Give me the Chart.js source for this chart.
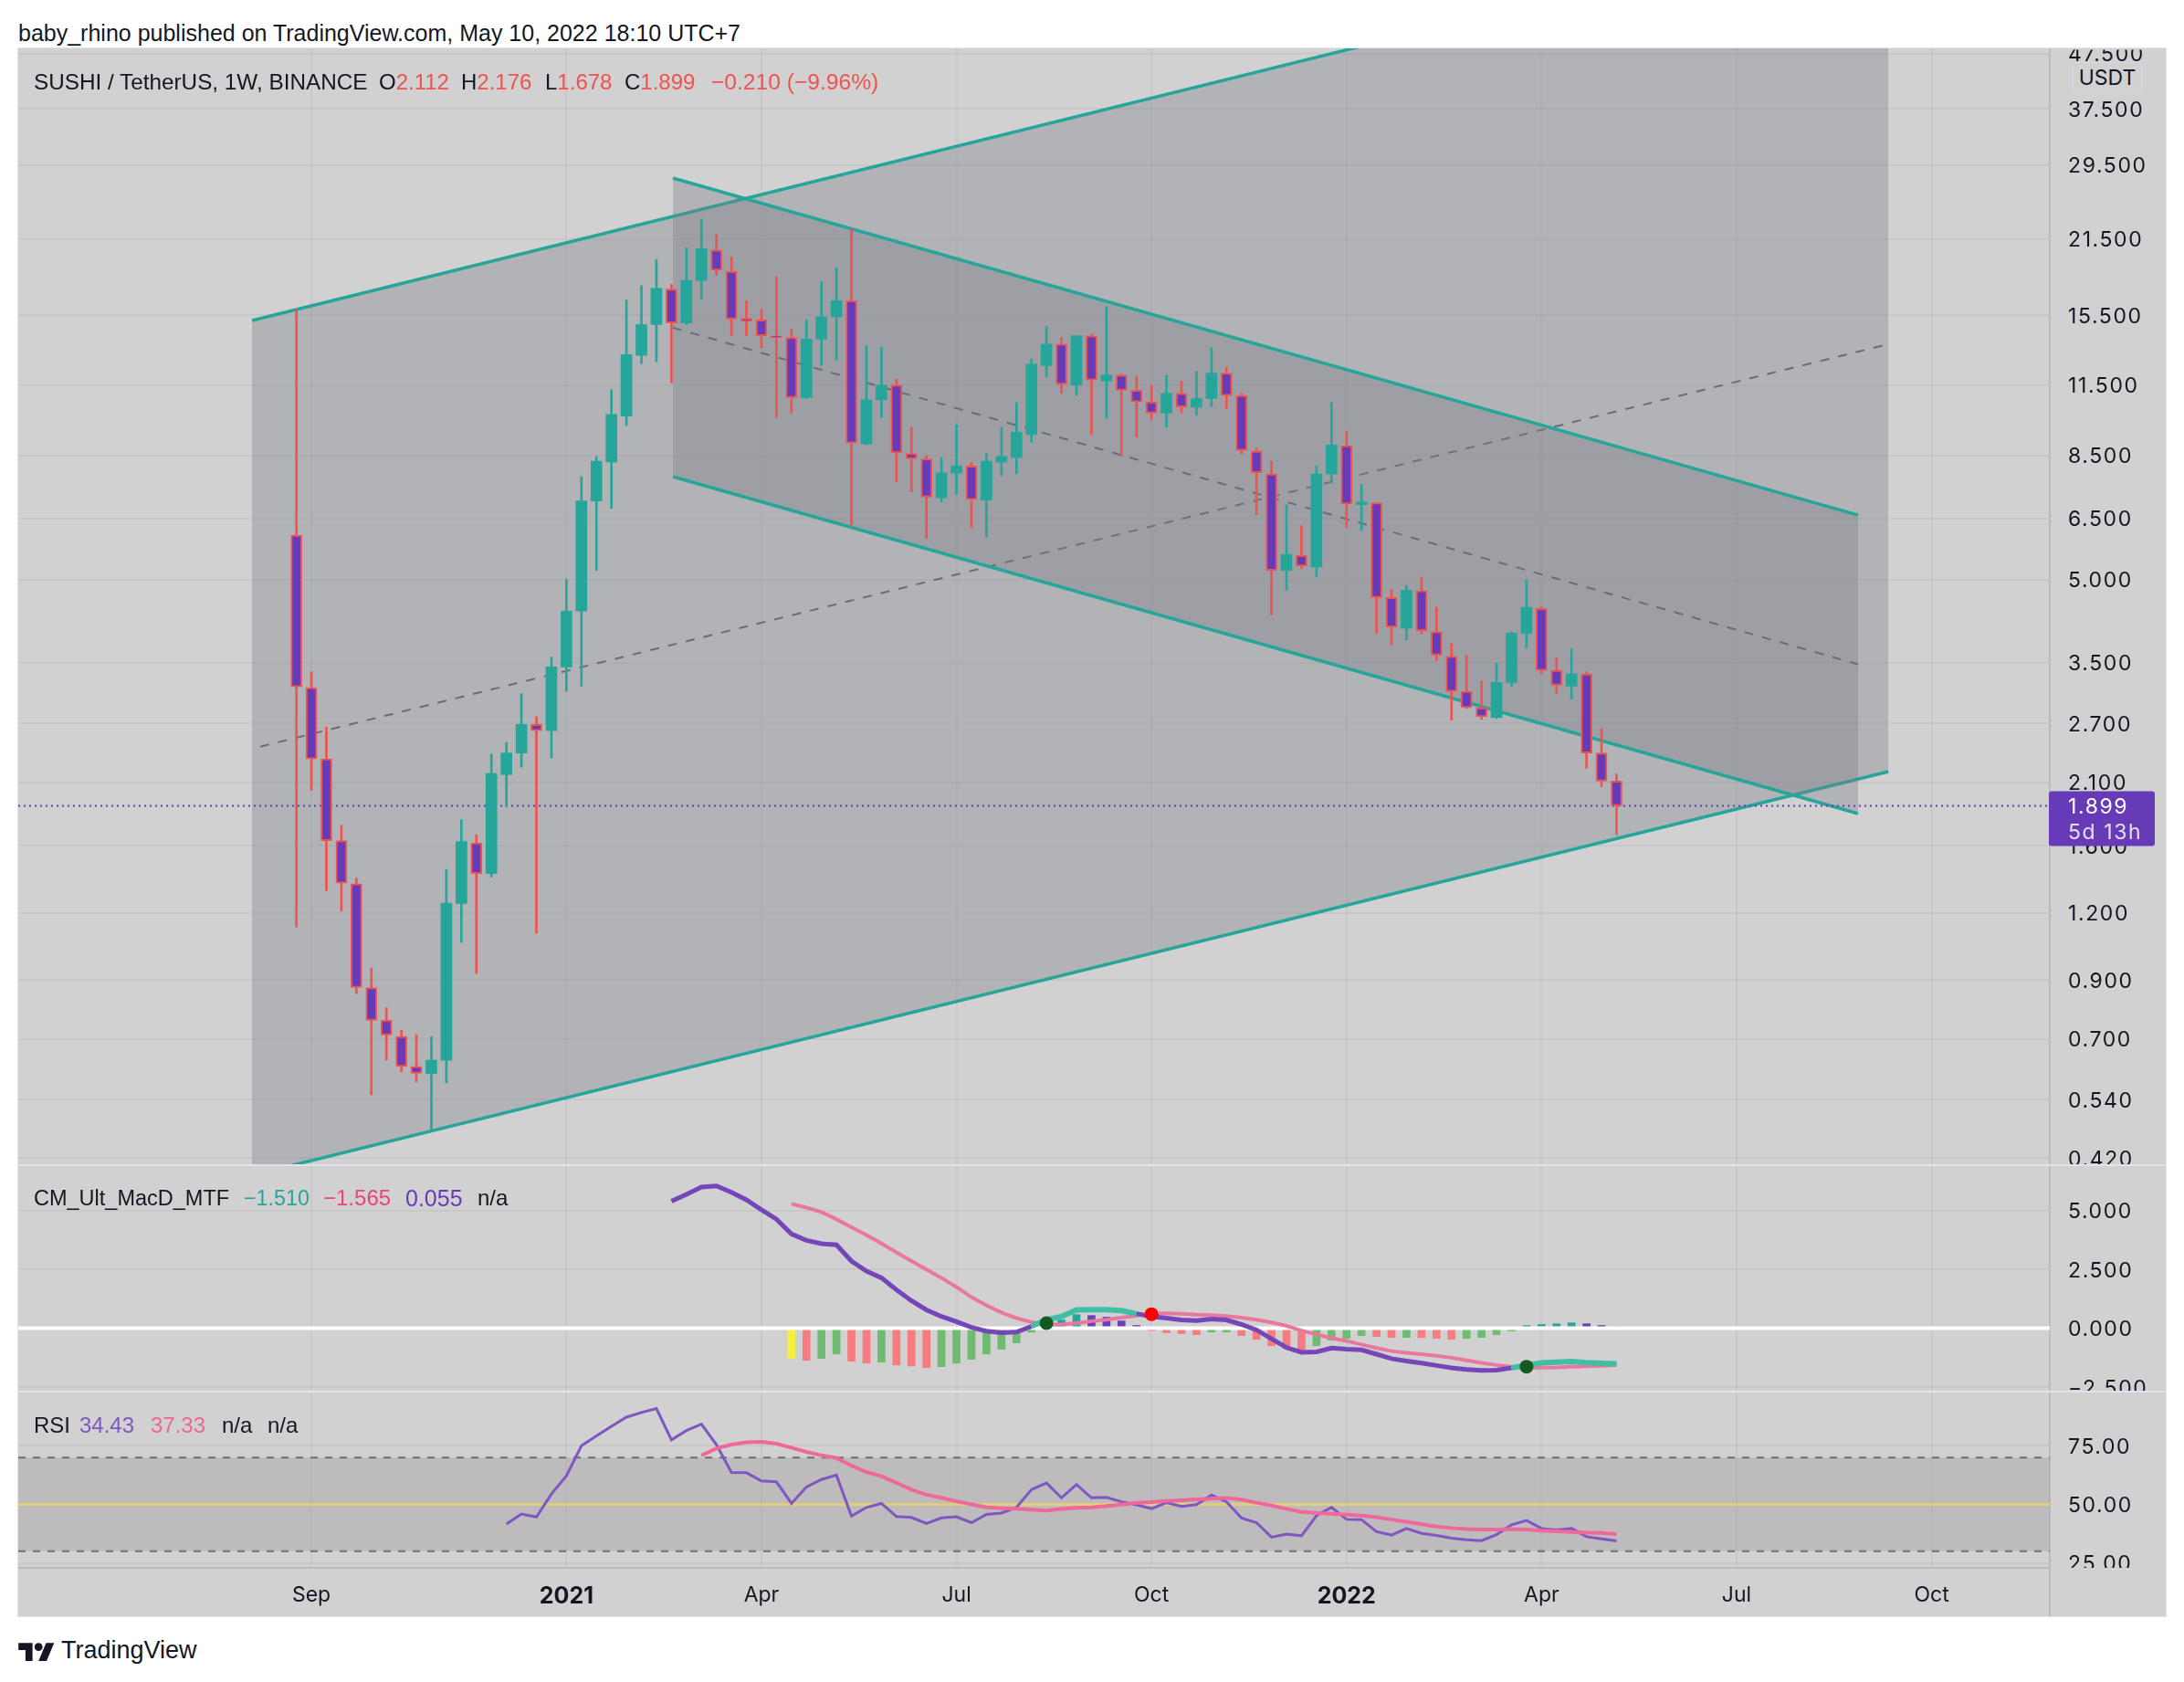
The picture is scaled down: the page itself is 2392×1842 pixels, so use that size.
<!DOCTYPE html>
<html>
<head>
<meta charset="utf-8">
<title>SUSHI / TetherUS</title>
<script src="https://cdn.jsdelivr.net/npm/chart.js@4"></script>
<style>
    html, body { margin: 0; background: #fff; }
    body { position: relative; width: 2392px; height: 1842px; overflow: hidden; font-family: "Liberation Sans", sans-serif; color: #131722; }
    #grafico { position: absolute; left: 20px; top: 53px; background: #d1d1d1; box-shadow: 0 0 0 1px #e0e3eb; }
    .txt { position: absolute; font-size: 24px; line-height: 30px; white-space: pre; }
    .rojo { color: #ef5350; }
    #usdt { position: absolute; left: 2270px; top: 68px; width: 74px; height: 32px; text-align: center; font: 23px/32px Inter, sans-serif; background: #d1d1d1; border: 1px solid #d6d8e0; border-radius: 6px; }
    #logo { position: absolute; left: 20px; top: 1797px; }
</style>
</head>
<body>
<div class="txt" style="left:20px;top:21px;font-size:25px">baby_rhino published on TradingView.com, May 10, 2022 18:10 UTC+7</div>
<canvas id="grafico" width="2352" height="1717"></canvas>
<div class="txt" style="left:37px;top:75px;font-size:24.3px">SUSHI / TetherUS, 1W, BINANCE</div>
<div class="txt" style="left:415px;top:75px">O<span class="rojo">2.112</span></div>
<div class="txt" style="left:505px;top:75px">H<span class="rojo">2.176</span></div>
<div class="txt" style="left:597px;top:75px">L<span class="rojo">1.678</span></div>
<div class="txt rojo" style="left:684px;top:75px"><span style="color:#131722">C</span>1.899</div>
<div class="txt rojo" style="left:779px;top:75px;font-size:24.6px">−0.210 (−9.96%)</div>
<div id="usdt">USDT</div>
<div class="txt" style="left:37px;top:1297px;font-size:23.5px">CM_Ult_MacD_MTF</div>
<div class="txt" style="left:267px;top:1297px;font-size:23.3px;color:#26a69a">−1.510</div>
<div class="txt" style="left:354px;top:1297px;color:#e8447c">−1.565</div>
<div class="txt" style="left:444px;top:1297px;font-size:25px;color:#673ab7">0.055</div>
<div class="txt" style="left:523px;top:1297px">n/a</div>
<div class="txt" style="left:37px;top:1546px">RSI</div>
<div class="txt" style="left:87px;top:1546px;color:#7e57c2">34.43</div>
<div class="txt" style="left:165px;top:1546px;color:#ec6794">37.33</div>
<div class="txt" style="left:243px;top:1546px">n/a</div>
<div class="txt" style="left:293px;top:1546px">n/a</div>
<svg id="logo" width="40" height="22" viewBox="0 0 36 20"><path d="M14 20H7V9H0V2h14v18zM28 20h-8l7.5-18h8L28 20z" fill="#131722"/><circle cx="20" cy="6" r="4" fill="#131722"/></svg>
<div class="txt" style="left:67px;top:1792px;font-size:27px">TradingView</div>

<script>
// velas semanales, desde la semana del 31 ago 2020
const aperturas = [6.05,3.15,2.32,1.636,1.36,.872,.758,.707,.622,.603,.639,1.25,1.62,1.42,2.17,2.38,2.69,2.62,3.44,4.37,7.0,8.27,10.07,13.06,14.9,17.35,15.0,18.0,20.5,18.7,15.3,15.2,14.2,14.1,10.9,14.0,15.4,16.5,8.94,10.8,11.5,8.58,8.38,7.1,7.89,8.13,7.03,8.27,8.43,9.3,12.5,13.7,11.5,14.2,11.7,12.0,11.25,10.7,10.2,11.1,10.46,10.85,12.1,11.0,8.67,7.86,5.2,5.55,5.28,7.86,8.87,6.89,6.95,4.63,4.06,4.77,4.0,3.6,3.1,2.89,2.77,3.22,3.97,4.42,3.39,3.17,3.34,2.38,2.112];
const maximos = [15.9,3.37,2.66,1.748,1.392,.948,.80,.727,.713,.707,1.446,1.79,1.678,2.37,2.49,3.07,2.78,3.59,5.01,7.77,8.47,11.27,16.55,17.6,19.7,17.7,20.7,23.4,21.9,19.9,16.5,15.9,18.3,14.6,15.2,17.9,19.0,22.5,13.6,13.5,11.8,9.6,8.5,8.43,9.7,8.27,8.6,9.6,10.67,12.87,14.8,14.1,14.2,14.3,16.1,12.06,11.95,11.5,12.0,11.7,12.2,13.5,12.4,11.1,8.77,8.3,6.89,6.3,8.14,10.67,9.45,7.52,6.95,4.8,4.88,5.06,4.44,3.8,3.62,3.24,3.5,4.0,5.0,4.45,3.58,3.72,3.37,2.64,2.176];
const minimos = [1.13,2.03,1.32,1.21,.85,.551,.639,.608,.582,.473,.58,1.058,.926,1.40,1.89,2.24,1.10,2.33,3.10,3.17,5.2,6.78,9.67,12.6,12.7,11.6,14.9,16.6,18.4,14.2,14.2,13.5,9.99,10.2,10.85,12.5,12.8,6.28,8.9,10.0,7.6,7.28,5.96,6.97,7.2,6.24,6.0,7.8,7.87,9.0,11.9,11.1,11.0,9.3,9.98,8.48,9.2,9.9,9.6,10.2,10.1,10.5,10.4,8.57,6.6,4.3,4.78,5.24,5.07,7.56,6.25,6.18,3.97,3.78,3.86,3.96,3.54,2.74,2.88,2.75,2.76,3.16,3.73,3.34,3.07,3.0,2.23,2.06,1.678];
const cierres = [3.16,2.32,1.636,1.363,.872,.758,.712,.622,.604,.639,1.252,1.63,1.42,2.18,2.38,2.69,2.62,3.44,4.37,7.0,8.3,10.14,13.1,14.9,17.4,15.0,18.0,20.6,18.8,15.25,15.1,14.2,14.1,10.9,14.0,15.4,16.5,8.97,10.8,11.5,8.6,8.39,7.12,7.9,8.14,7.04,8.3,8.47,9.4,12.57,13.7,11.55,14.2,11.75,12.0,11.25,10.7,10.2,11.1,10.47,10.85,12.1,11.0,8.7,7.9,5.2,5.57,5.3,7.86,8.9,6.91,6.97,4.63,4.08,4.78,4.02,3.62,3.1,2.89,2.78,3.22,3.98,4.44,3.39,3.18,3.34,2.38,2.11,1.899];

// canal ascendente y canal descendente: [semana, precio]
const canalSubeArriba = [[-2.96,15.16],[106.12,85.7]];
const canalSubeAbajo = [[-2.96,.3905],[106.12,2.198]];
const canalSubeMedio = [[-2.41,2.446],[106.12,13.7]];
const bordeRelleno = [[-2.96,.4093],[0,.4093],[106.12,2.198]];
const canalBajaArriba = [[25.1,27.9],[104.1,6.59]];
const canalBajaAbajo = [[25.1,7.77],[104.1,1.836]];
const canalBajaMedio = [[25.1,14.7],[104.1,3.48]];

const macdInicio = 25;
const macdLinea = [5.39,5.68,5.99,6.04,5.77,5.45,5.03,4.63,4.0,3.73,3.59,3.54,2.85,2.42,2.14,1.63,1.17,.78,.5,.28,.04,-.12,-.19,-.16,.08,.36,.5,.78,.79,.79,.75,.62,.5,.43,.35,.32,.39,.35,.16,-.07,-.45,-.82,-1.02,-1.0,-.84,-.89,-.92,-1.1,-1.29,-1.39,-1.48,-1.58,-1.68,-1.75,-1.79,-1.78,-1.68,-1.57,-1.47,-1.44,-1.41,-1.46,-1.49,-1.51];
const senalInicio = 33;
const macdSenal = [5.28,5.12,4.93,4.63,4.29,3.96,3.6,3.22,2.85,2.49,2.14,1.75,1.32,.97,.67,.43,.26,.16,.16,.22,.3,.36,.45,.54,.61,.63,.61,.58,.56,.52,.45,.36,.25,.1,-.1,-.26,-.42,-.54,-.69,-.84,-.97,-1.04,-1.1,-1.17,-1.25,-1.36,-1.47,-1.56,-1.63,-1.67,-1.67,-1.66,-1.63,-1.61,-1.59,-1.565];
const histograma = [-1.27,-1.36,-1.28,-1.09,-1.40,-1.48,-1.44,-1.56,-1.6,-1.67,-1.63,-1.48,-1.32,-1.09,-.89,-.62,-.17,.2,.35,.58,.54,.47,.31,.12,-.1,-.19,-.23,-.27,-.16,-.16,-.31,-.47,-.74,-.86,-.93,-.74,-.51,-.43,-.31,-.35,-.39,-.39,-.40,-.43,-.47,-.43,-.39,-.27,-.12,.12,.16,.19,.23,.19,.12,.055];
const crucesAlza = [[50,.22],[82,-1.63]];
const crucesBaja = [[57,.6]];

const rsiInicio = 14;
const rsiLinea = [41.6,45.9,44.6,54.4,62.2,75.0,79.2,83.3,87.2,89.2,90.9,77.5,81.5,84.2,75.5,63.6,63.5,60.0,59.6,50.4,57.4,60.6,62.5,45.0,48.7,50.4,44.8,44.4,41.8,44.2,44.7,42.2,45.7,46.3,48.7,56.3,59.1,52.8,58.5,52.8,53.0,51.1,49.8,48.2,50.7,49.1,49.9,54.0,51.1,44.2,42.2,36.0,37.3,36.6,45.2,48.7,43.6,43.5,38.3,36.9,39.7,37.6,36.7,35.6,34.9,34.5,37.1,41.3,43.1,39.7,39.1,39.7,36.2,35.3,34.43];
const mediaInicio = 27;
const rsiMedia = [70.9,73.9,75.5,76.5,76.7,75.9,74.2,72.4,70.9,69.8,66.5,63.8,62.0,59.2,56.3,54.1,52.8,51.3,50.0,48.7,48.3,48.1,47.7,47.4,48.0,48.5,48.7,49.3,49.9,50.7,51.0,51.4,51.7,52.1,52.4,52.7,52.0,50.7,49.5,48.1,46.8,46.3,46.0,45.6,45.2,44.5,43.5,42.6,41.5,40.5,39.9,39.5,39.3,39.3,39.5,39.3,38.8,38.5,38.2,37.9,37.8,37.33];

const ticksPrecio = [47.5,37.5,29.5,21.5,15.5,11.5,8.5,6.5,5,3.5,2.7,2.1,1.6,1.2,.9,.7,.54,.42];
const ticksMacd = [5,2.5,0,-2.5];
const ticksRsi = [75,50,25];
const ticksSemana = [1,18,31,44,57,70,83,96,109];
const etiquetasSemana = ['Sep','2021','Apr','Jul','Oct','2022','Apr','Jul','Oct'];

const VERDE = '#26a69a', ROJO = '#ef5350', MORADO = '#673ab7';
const XMIN = -18.54, XMAX = 116.88;
const SOMBRA = 'rgba(120,123,134,0.35)';

const puntos = pares => pares.map(([x, y]) => ({ x, y }));
const serie = (inicio, vals) => vals.map((y, k) => ({ x: inicio + k, y }));
const semanas = cierres.map((_, i) => i);
const horizontal = v => [{ x: XMIN, y: v }, { x: XMAX, y: v }];

const linea = (data, yAxisID, extra) => ({ type: 'line', data, yAxisID, pointRadius: 0, tension: 0, ...extra });
const tendencia = pares => linea(puntos(pares), 'y', { borderColor: VERDE, borderWidth: 3.5 });
const discontinua = pares => linea(puntos(pares), 'y', { borderColor: '#6b6c75', borderWidth: 2, borderDash: [10, 10] });

// color del histograma segun suba o baje respecto a la barra anterior
const colorHist = (v, k) => {
    if (k === 0) return '#f5f03c';
    const prev = histograma[k - 1];
    if (v >= 0) return v >= prev ? VERDE : '#6b3fb5';
    return v < prev ? '#f77c80' : '#6fbb6f';
};

// macd por encima de la senal en el punto final del tramo
const macdArriba = ctx => {
    const k = ctx.p1.parsed.x - senalInicio;
    return k >= 0 && macdLinea[ctx.p1.parsed.x - macdInicio] >= macdSenal[k];
};

// de atras hacia adelante
const capas = [
    linea(puntos(canalSubeArriba), 'y', { borderWidth: 0, fill: '+1', backgroundColor: SOMBRA }),
    linea(puntos(bordeRelleno), 'y', { borderWidth: 0 }),
    tendencia(canalSubeArriba),
    tendencia(canalSubeAbajo),
    discontinua(canalSubeMedio),
    linea(puntos(canalBajaArriba), 'y', { borderColor: VERDE, borderWidth: 3.5, fill: '+1', backgroundColor: SOMBRA }),
    tendencia(canalBajaAbajo),
    discontinua(canalBajaMedio),
    linea(horizontal(cierres[cierres.length - 1]), 'y', { borderColor: MORADO, borderWidth: 2, borderDash: [2, 4] }),
    {
        type: 'bar', yAxisID: 'y', grouped: false, barThickness: 2,
        data: semanas.map(i => ({ x: i, y: [minimos[i], maximos[i]] })),
        backgroundColor: semanas.map(i => cierres[i] >= aperturas[i] ? VERDE : ROJO)
    },
    {
        type: 'bar', yAxisID: 'y', grouped: false, barThickness: 12, borderSkipped: false,
        data: semanas.map(i => ({ x: i, y: [aperturas[i], cierres[i]] })),
        backgroundColor: semanas.map(i => cierres[i] >= aperturas[i] ? VERDE : MORADO),
        borderColor: semanas.map(i => cierres[i] >= aperturas[i] ? VERDE : ROJO),
        borderWidth: semanas.map(i => cierres[i] >= aperturas[i] ? 0 : 2)
    },
    {
        type: 'bar', yAxisID: 'macd', grouped: false, barThickness: 8,
        data: serie(senalInicio, histograma),
        backgroundColor: histograma.map(colorHist)
    },
    linea(horizontal(0), 'macd', { borderColor: '#ffffff', borderWidth: 4 }),
    linea(serie(senalInicio, macdSenal), 'macd', { borderColor: '#e8789f', borderWidth: 4 }),
    linea(serie(macdInicio, macdLinea), 'macd', {
        borderColor: '#7446b8', borderWidth: 5,
        segment: {
            borderColor: ctx => macdArriba(ctx) ? '#40bfa6' : '#7446b8',
            borderWidth: ctx => macdArriba(ctx) ? 6 : 5
        }
    }),
    linea(puntos(crucesAlza), 'macd', { showLine: false, pointRadius: 7.5, pointBackgroundColor: '#145a1e', pointBorderWidth: 0 }),
    linea(puntos(crucesBaja), 'macd', { showLine: false, pointRadius: 7.5, pointBackgroundColor: '#ff0000', pointBorderWidth: 0 }),
    linea(horizontal(70), 'rsi', { borderColor: '#6e6f78', borderWidth: 2, borderDash: [8, 8], fill: '+1', backgroundColor: 'rgba(133,125,129,0.25)' }),
    linea(horizontal(30), 'rsi', { borderColor: '#6e6f78', borderWidth: 2, borderDash: [8, 8] }),
    linea(horizontal(50), 'rsi', { borderColor: '#e0cf78', borderWidth: 3 }),
    linea(serie(rsiInicio, rsiLinea), 'rsi', { borderColor: '#7e57c2', borderWidth: 3 }),
    linea(serie(mediaInicio, rsiMedia), 'rsi', { borderColor: '#f0689a', borderWidth: 4 })
];
capas.forEach((capa, k) => { capa.order = capas.length - k; });

const sinRelleno = (scale, ancho) => {
    scale.paddingTop = scale.paddingBottom = scale.paddingLeft = scale.paddingRight = 0;
    if (ancho) scale.width = ancho;
};
const ejeY = (ticks, formato, peso, rango) => ({
    stack: 'paneles',
    stackWeight: peso,
    position: 'right',
    ...rango,
    afterBuildTicks: scale => { scale.ticks = ticks.map(value => ({ value })); },
    afterFit: scale => sinRelleno(scale, 127),
    border: { color: '#bcbcbc', width: 2 },
    grid: { color: 'rgba(0,0,0,0.045)', lineWidth: 2, drawTicks: false },
    ticks: { autoSkip: false, padding: 20, color: '#131722', font: { family: 'Inter', size: 23 }, callback: formato }
});

// marco de los paneles y etiqueta del ultimo precio
const marcoPaneles = {
    id: 'marcoPaneles',
    beforeDraw(chart) {
        const ctx = chart.ctx;
        ['y', 'macd', 'rsi'].forEach(id => {
            const scale = chart.scales[id];
            if (scale.recortado) return;
            scale.recortado = true;
            const original = scale.drawLabels.bind(scale);
            scale.drawLabels = area => {
                ctx.save();
                ctx.beginPath();
                ctx.rect(scale.left, scale.top, scale.width, scale.height);
                ctx.clip();
                ctx.translate(0, 1.5);
                ctx.letterSpacing = '1.6px';
                original(area);
                ctx.restore();
            };
        });
    },
    afterDraw(chart) {
        const ctx = chart.ctx;
        const { y, macd } = chart.scales;
        ctx.save();
        ctx.fillStyle = '#e0e3eb';
        ctx.fillRect(0, y.bottom, chart.width, 2);
        ctx.fillRect(0, macd.bottom, chart.width, 2);
        ctx.fillStyle = '#bcbcbc';
        ctx.fillRect(y.left - 1, chart.chartArea.bottom, 2, chart.height - chart.chartArea.bottom);
        const py = y.getPixelForValue(cierres[cierres.length - 1]);
        ctx.fillStyle = MORADO;
        ctx.beginPath();
        ctx.roundRect(y.left - 1, py - 16, 116, 60, 3);
        ctx.fill();
        ctx.font = '23px Inter';
        ctx.letterSpacing = '1.6px';
        ctx.textBaseline = 'middle';
        ctx.fillStyle = '#ffffff';
        ctx.fillText('1.899', y.left + 20, py + 1.5);
        ctx.fillStyle = '#e5dff2';
        ctx.fillText('5d 13h', y.left + 20, py + 30);
        ctx.restore();
    }
};

new Chart(document.getElementById('grafico').getContext('2d'), {
    type: 'bar',
    data: { datasets: capas },
    plugins: [marcoPaneles],
    options: {
        responsive: false,
        animation: false,
        devicePixelRatio: 1,
        events: [],
        layout: { padding: 0, autoPadding: false },
        plugins: { legend: { display: false }, tooltip: { enabled: false } },
        scales: {
            x: {
                type: 'linear',
                offset: false,
                min: XMIN,
                max: XMAX,
                afterBuildTicks: scale => { scale.ticks = ticksSemana.map(value => ({ value })); },
                afterFit: scale => { sinRelleno(scale); scale.height = 53; },
                border: { color: '#bcbcbc', width: 2 },
                grid: { color: 'rgba(0,0,0,0.045)', lineWidth: 2, drawTicks: false, offset: false },
                ticks: {
                    autoSkip: false,
                    maxRotation: 0,
                    padding: 16,
                    color: '#131722',
                    font: ctx => {
                        const anual = ctx.tick && /^20/.test(ctx.tick.label);
                        return { family: 'Inter', size: anual ? 25 : 23, weight: anual ? 'bold' : 'normal' };
                    },
                    callback: value => etiquetasSemana[ticksSemana.indexOf(value)]
                }
            },
            y: { type: 'logarithmic', ...ejeY(ticksPrecio, v => v.toFixed(3), 1222, { min: .4093, max: 48.6 }) },
            macd: { type: 'linear', ...ejeY(ticksMacd, v => v.toFixed(3).replace('-', '−'), 248, { min: -2.65, max: 6.96 }) },
            rsi: { type: 'linear', ...ejeY(ticksRsi, v => v.toFixed(2), 194, { min: 22.9, max: 98.5 }) }
        }
    }
});
</script>
</body>
</html>
